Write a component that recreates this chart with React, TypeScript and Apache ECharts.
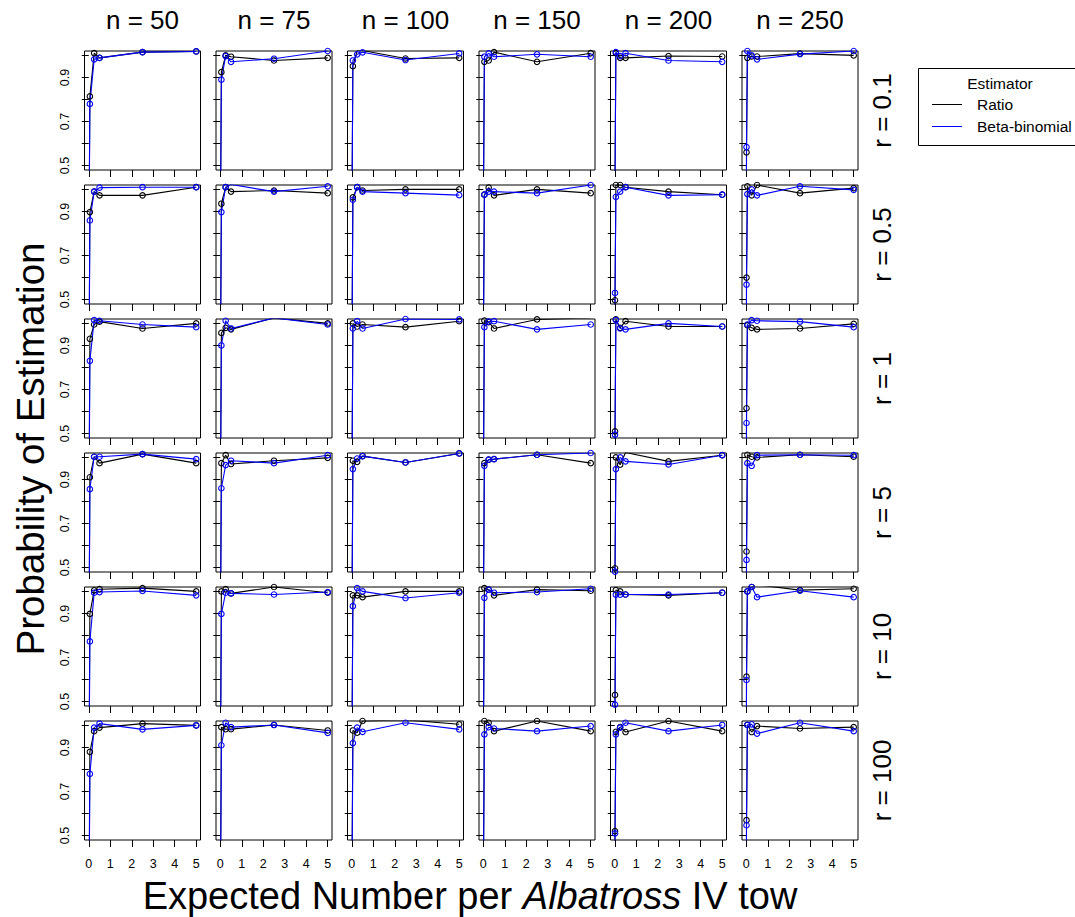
import React, { useEffect, useRef } from 'react';
import * as echarts from 'echarts';

// Expected number per tow (x positions of the points)
const X_VALUES = [0, 0.01, 0.05, 0.25, 0.5, 2.5, 5];
const N_LABELS = ['n = 50', 'n = 75', 'n = 100', 'n = 150', 'n = 200', 'n = 250'];
const R_LABELS = ['r = 0.1', 'r = 0.5', 'r = 1', 'r = 5', 'r = 10', 'r = 100'];
const X_TICKS = [0, 1, 2, 3, 4, 5];
const Y_TICKS = [0.5, 0.6, 0.7, 0.8, 0.9, 1.0];
const Y_TICK_LABELS = [0.5, 0.7, 0.9];

// Ratio estimator, one row per n (50, 75, 100, 150, 200, 250)
const RATIO_R0_1 = [
  [0, 0.2, 0.814, 1.01, 0.989, 1.015, 1.018],
  [0, 0.3, 0.924, 1.0, 0.994, 0.977, 0.989],
  [0, 0.35, 0.951, 1.022, 1.022, 0.986, 0.989],
  [0, 0.4, 0.971, 0.977, 1.015, 0.971, 1.01],
  [0, 0.45, 1.01, 0.989, 0.989, 0.997, 0.995],
  [0, 0.56, 0.989, 0.995, 0.995, 1.008, 1.0],
];
const RATIO_R0_5 = [
  [0, 0.2, 0.897, 0.99, 0.973, 0.973, 1.01],
  [0, 0.3, 0.935, 1.01, 0.99, 0.995, 0.983],
  [0, 0.35, 0.964, 1.01, 0.995, 1.0, 1.0],
  [0, 0.4, 0.976, 1.008, 0.973, 1.0, 0.983],
  [0, 0.497, 1.02, 1.02, 1.01, 0.99, 0.976],
  [0, 0.6, 1.014, 0.973, 1.02, 0.983, 1.006],
];
const RATIO_R1 = [
  [0, 0.2, 0.93, 0.995, 1.008, 0.977, 1.0],
  [0, 0.3, 0.957, 0.98, 0.973, 1.025, 1.0],
  [0, 0.35, 1.0, 0.986, 0.995, 0.983, 1.01],
  [0, 0.4, 1.013, 1.006, 0.977, 1.018, 1.025],
  [0, 0.51, 1.018, 0.98, 1.01, 0.986, 0.986],
  [0, 0.615, 0.992, 0.98, 0.973, 0.977, 0.998],
];
const RATIO_R5 = [
  [0, 0.2, 0.91, 1.003, 0.974, 1.015, 0.974],
  [0, 0.3, 0.974, 1.01, 0.97, 0.985, 0.998],
  [0, 0.35, 0.985, 0.98, 1.006, 0.977, 1.018],
  [0, 0.4, 0.974, 0.99, 0.992, 1.012, 0.974],
  [0, 0.497, 1.0, 0.967, 1.022, 0.982, 1.01],
  [0, 0.573, 1.012, 1.003, 1.0, 1.012, 1.003],
];
const RATIO_R10 = [
  [0, 0.2, 0.898, 1.005, 1.01, 1.015, 1.0],
  [0, 0.3, 1.0, 1.01, 0.991, 1.02, 0.994],
  [0, 0.35, 0.982, 0.982, 0.974, 1.0, 1.0],
  [0, 0.4, 1.015, 1.008, 0.982, 1.008, 1.003],
  [0, 0.53, 1.006, 1.0, 0.986, 0.982, 0.994],
  [0, 0.613, 1.0, 1.02, 1.03, 1.006, 1.012],
];
const RATIO_R100 = [
  [0, 0.2, 0.88, 0.974, 0.99, 1.008, 1.0],
  [0, 0.3, 0.992, 0.983, 0.983, 1.002, 0.977],
  [0, 0.35, 0.977, 0.967, 1.02, 1.025, 1.005],
  [0, 0.4, 1.02, 1.012, 0.974, 1.02, 0.974],
  [0, 0.52, 0.971, 0.992, 0.97, 1.02, 0.974],
  [0, 0.57, 1.002, 0.97, 0.997, 0.986, 0.992],
];

// Beta-binomial estimator
const BETA_R0_1 = [
  [0, 0.15, 0.78, 0.982, 0.989, 1.015, 1.018],
  [0, 0.25, 0.89, 0.997, 0.971, 0.985, 1.02],
  [0, 0.3, 0.977, 1.005, 1.014, 0.979, 1.009],
  [0, 0.35, 0.994, 1.009, 0.994, 1.005, 0.994],
  [0, 0.4, 1.015, 0.997, 1.01, 0.977, 0.971],
  [0, 0.584, 1.02, 1.0, 0.982, 1.006, 1.02],
];
const BETA_R0_5 = [
  [0, 0.15, 0.859, 0.99, 1.008, 1.01, 1.01],
  [0, 0.25, 0.897, 1.01, 1.022, 0.99, 1.014],
  [0, 0.3, 0.953, 1.01, 0.99, 0.983, 0.974],
  [0, 0.35, 0.976, 0.99, 0.99, 0.983, 1.02],
  [0, 0.53, 0.966, 0.99, 1.01, 0.973, 0.976],
  [0, 0.568, 0.979, 1.0, 0.973, 1.014, 0.998],
];
const BETA_R1 = [
  [0, 0.15, 0.83, 1.015, 1.012, 0.995, 0.983],
  [0, 0.25, 0.9, 1.012, 0.977, 1.025, 0.995],
  [0, 0.3, 0.977, 1.01, 0.977, 1.02, 1.018],
  [0, 0.35, 0.983, 1.008, 1.01, 0.973, 0.995],
  [0, 0.495, 1.015, 0.977, 0.973, 1.0, 0.986],
  [0, 0.548, 0.995, 1.015, 1.012, 1.008, 0.983],
];
const BETA_R5 = [
  [0, 0.15, 0.856, 1.003, 1.003, 1.015, 0.992],
  [0, 0.25, 0.86, 0.965, 0.985, 0.974, 1.01],
  [0, 0.3, 0.947, 0.995, 1.006, 0.977, 1.018],
  [0, 0.35, 0.962, 0.99, 0.992, 1.012, 1.02],
  [0, 0.482, 0.947, 1.0, 0.982, 0.968, 1.01],
  [0, 0.535, 0.974, 0.962, 1.01, 1.012, 1.01],
];
const BETA_R10 = [
  [0, 0.15, 0.773, 0.994, 0.997, 1.002, 0.982],
  [0, 0.25, 0.898, 0.994, 0.991, 0.986, 0.997],
  [0, 0.3, 0.933, 1.015, 1.0, 0.97, 0.994],
  [0, 0.35, 0.971, 1.008, 0.994, 0.997, 1.012],
  [0, 0.486, 0.985, 0.985, 0.986, 0.986, 0.994],
  [0, 0.598, 1.0, 1.02, 0.974, 1.003, 0.974],
];
const BETA_R100 = [
  [0, 0.15, 0.78, 0.99, 1.008, 0.982, 1.0],
  [0, 0.25, 0.91, 1.012, 0.992, 1.002, 0.966],
  [0, 0.3, 0.92, 0.99, 0.971, 1.012, 0.982],
  [0, 0.35, 0.959, 0.992, 0.986, 0.974, 0.997],
  [0, 0.51, 0.959, 0.99, 1.012, 0.974, 1.002],
  [0, 0.547, 1.002, 1.005, 0.963, 1.012, 0.974],
];

const RATIO = [RATIO_R0_1, RATIO_R0_5, RATIO_R1, RATIO_R5, RATIO_R10, RATIO_R100];
const BETA = [BETA_R0_1, BETA_R0_5, BETA_R1, BETA_R5, BETA_R10, BETA_R100];

const FONT = '"Liberation Sans", Arial, Helvetica, sans-serif';
const LEFT0 = 84.5;
const COL_STEP = 131.5;
const PANEL_W = 116;
const TOP0 = 51;
const ROW_STEP = 134;
const PANEL_H = 119;

function buildOption() {
  const grid: any[] = [];
  const xAxis: any[] = [];
  const yAxis: any[] = [];
  const series: any[] = [];
  const graphic: any[] = [];

  for (let r = 0; r < 6; r++) {
    for (let c = 0; c < 6; c++) {
      const i = r * 6 + c;
      const left = LEFT0 + c * COL_STEP;
      const top = TOP0 + r * ROW_STEP;
      grid.push({
        left, top, width: PANEL_W, height: PANEL_H,
        show: true, borderColor: '#000', borderWidth: 1, backgroundColor: 'transparent',
        containLabel: false,
      });
      xAxis.push({
        type: 'value', gridIndex: i, min: -0.2, max: 5.2,
        axisLine: { show: false },
        splitLine: { show: false },
        axisTick: { show: true, customValues: X_TICKS, length: 7, inside: false, lineStyle: { color: '#000', width: 1 } },
        axisLabel: {
          show: r === 5, customValues: X_TICKS, fontSize: 12.5, color: '#000', margin: 17,
          fontFamily: FONT, formatter: (v: number) => String(v),
        },
      });
      yAxis.push({
        type: 'value', gridIndex: i, min: 0.48, max: 1.02,
        axisLine: { show: false },
        splitLine: { show: false },
        axisTick: { show: true, customValues: Y_TICKS, length: 7, inside: false, lineStyle: { color: '#000', width: 1 } },
        axisLabel: {
          show: c === 0, customValues: Y_TICK_LABELS, rotate: 90, fontSize: 12.5, color: '#000', margin: 13,
          fontFamily: FONT, formatter: (v: number) => v.toFixed(1),
        },
      });
      const mk = (vals: number[], color: string) => ({
        type: 'line', xAxisIndex: i, yAxisIndex: i,
        data: X_VALUES.map((x, k) => [x, vals[k]]),
        clip: true, silent: true,
        symbol: 'circle', symbolSize: 5.5, showAllSymbol: true,
        lineStyle: { color, width: 1.1 },
        itemStyle: { color: 'rgba(0,0,0,0)', borderColor: color, borderWidth: 1.1 },
      });
      series.push(mk(RATIO[r][c], '#000000'));
      series.push(mk(BETA[r][c], '#0000ff'));
    }
  }

  // column titles
  N_LABELS.forEach((t, c) => {
    graphic.push({
      type: 'text', x: LEFT0 + c * COL_STEP + PANEL_W / 2, y: 20,
      style: { text: t, fontSize: 26, fontFamily: FONT, fill: '#000', textAlign: 'center', textVerticalAlign: 'middle' },
    });
  });
  // row labels
  R_LABELS.forEach((t, r) => {
    graphic.push({
      type: 'text', x: 882, y: TOP0 + r * ROW_STEP + PANEL_H / 2, rotation: Math.PI / 2,
      style: { text: t, fontSize: 26, fontFamily: FONT, fill: '#000', textAlign: 'center', textVerticalAlign: 'middle' },
    });
  });
  // axis titles
  graphic.push({
    type: 'text', x: 30, y: 449, rotation: Math.PI / 2,
    style: { text: 'Probability of Estimation', fontSize: 38.5, fontFamily: FONT, fill: '#000', textAlign: 'center', textVerticalAlign: 'middle' },
  });
  graphic.push({
    type: 'text', x: 470, y: 896,
    style: {
      text: '{a|Expected Number per }{b|Albatross}{a| IV tow}',
      textAlign: 'center', textVerticalAlign: 'middle',
      rich: {
        a: { fontSize: 38, fontFamily: FONT, fill: '#000' },
        b: { fontSize: 38, fontFamily: FONT, fontStyle: 'italic', fill: '#000' },
      },
    },
  });
  // legend
  graphic.push({
    type: 'rect', shape: { x: 918.5, y: 68.5, width: 170, height: 77 },
    style: { fill: '#fff', stroke: '#000', lineWidth: 1 },
  });
  graphic.push({
    type: 'text', x: 1000, y: 83,
    style: { text: 'Estimator', fontSize: 15.5, fontFamily: FONT, fill: '#000', textAlign: 'center', textVerticalAlign: 'middle' },
  });
  graphic.push({ type: 'line', shape: { x1: 932, y1: 104.5, x2: 962, y2: 104.5 }, style: { stroke: '#000', lineWidth: 1 } });
  graphic.push({ type: 'line', shape: { x1: 932, y1: 126.5, x2: 962, y2: 126.5 }, style: { stroke: '#0000ff', lineWidth: 1 } });
  graphic.push({
    type: 'text', x: 977, y: 104,
    style: { text: 'Ratio', fontSize: 15.5, fontFamily: FONT, fill: '#000', textAlign: 'left', textVerticalAlign: 'middle' },
  });
  graphic.push({
    type: 'text', x: 977, y: 126,
    style: { text: 'Beta-binomial', fontSize: 15.5, fontFamily: FONT, fill: '#000', textAlign: 'left', textVerticalAlign: 'middle' },
  });

  return {
    animation: false,
    backgroundColor: '#fff',
    textStyle: { fontFamily: FONT },
    grid, xAxis, yAxis, series, graphic,
  };
}

export default function App() {
  const ref = useRef<HTMLDivElement>(null);
  useEffect(() => {
    if (!ref.current) return;
    const chart = echarts.init(ref.current, undefined, { renderer: 'svg' });
    chart.setOption(buildOption() as any);
    return () => chart.dispose();
  }, []);
  return (
    <div
      ref={ref}
      style={{ position: 'absolute', left: 0, top: 0, width: 1075, height: 917, background: '#fff' }}
    />
  );
}
